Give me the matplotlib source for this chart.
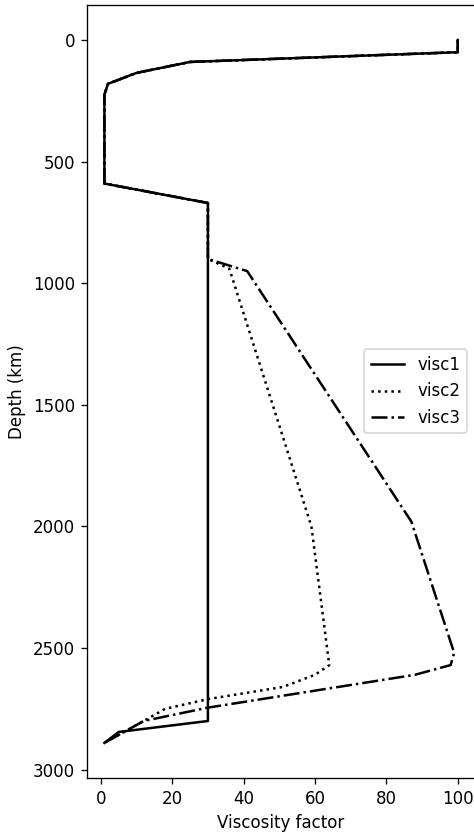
import matplotlib
matplotlib.use("Agg")
import matplotlib.pyplot as plt

# viscosity profiles: factor vs depth (km)
depth1 = [0, 50, 90, 135, 180, 225, 590, 670, 2800, 2845, 2890]
visc1 = [100, 100, 25, 10, 2, 1, 1, 30, 30, 5, 1]

depth2 = [0, 50, 90, 135, 180, 225, 590, 670, 900, 940, 2000, 2570,
          2610, 2660, 2710, 2750, 2800, 2890]
visc2 = [100, 100, 25, 10, 2, 1, 1, 30, 30, 36, 59, 64,
         60, 51, 30, 18, 12, 1]

depth3 = [0, 50, 90, 135, 180, 225, 590, 670, 900, 950, 1980, 2520,
          2570, 2610, 2745, 2800, 2890]
visc3 = [100, 100, 25, 10, 2, 1, 1, 30, 30, 41, 87, 99,
         98, 88, 30, 12, 1]

DPI = 120
fig = plt.figure(figsize=(474 / DPI, 834 / DPI), dpi=DPI)
ax = fig.add_axes([0.183, 0.0671, 0.820, 0.927])

ax.plot(visc1, depth1, color="black", linestyle="-", label="visc1")
ax.plot(visc2, depth2, color="black", linestyle=":", label="visc2")
ax.plot(visc3, depth3, color="black", linestyle="-.", label="visc3")

ax.invert_yaxis()
ax.set_xlabel("Viscosity factor")
ax.set_ylabel("Depth (km)")
ax.legend(loc="center right")

fig.savefig("out.png", dpi=DPI)
